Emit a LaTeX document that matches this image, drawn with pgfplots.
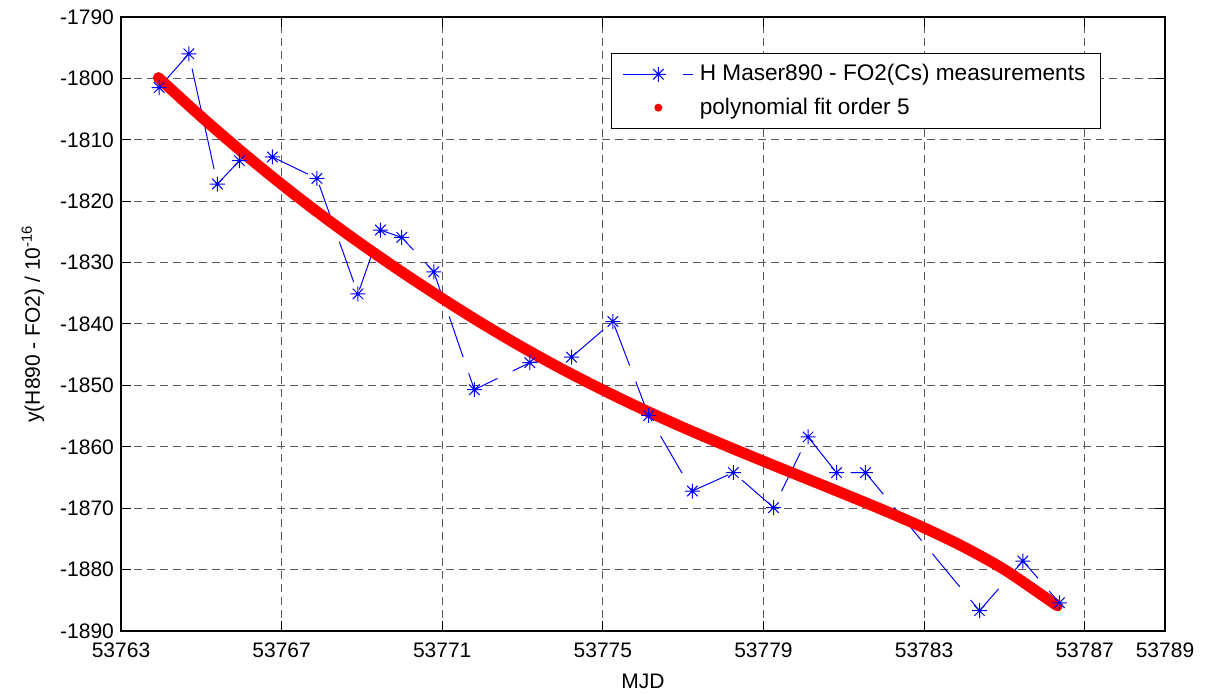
\documentclass[border=0pt]{standalone}
\usepackage{pgfplots}
\pgfplotsset{compat=1.18}
\usepackage{fontspec}
\setmainfont{Liberation Sans}
\pgfdeclareplotmark{mstar}{%
 \pgfpathmoveto{\pgfqpoint{-\pgfplotmarksize}{0pt}}\pgfpathlineto{\pgfqpoint{\pgfplotmarksize}{0pt}}%
 \pgfpathmoveto{\pgfqpoint{0pt}{-\pgfplotmarksize}}\pgfpathlineto{\pgfqpoint{0pt}{\pgfplotmarksize}}%
 \pgfpathmoveto{\pgfqpoint{-0.7\pgfplotmarksize}{-0.7\pgfplotmarksize}}\pgfpathlineto{\pgfqpoint{0.7\pgfplotmarksize}{0.7\pgfplotmarksize}}%
 \pgfpathmoveto{\pgfqpoint{-0.7\pgfplotmarksize}{0.7\pgfplotmarksize}}\pgfpathlineto{\pgfqpoint{0.7\pgfplotmarksize}{-0.7\pgfplotmarksize}}%
 \pgfusepathqstroke}
\pgfplotsset{
  mleg/.style={legend image code/.code={\draw[mark repeat=2,mark phase=2,##1] plot coordinates {(0pt,0pt) (17.5pt,0pt) (35pt,0pt)};}},
  dotleg/.style={legend image code/.code={\path[fill=red, draw=none] (17.5pt,0pt) circle (2pt);}},
}
\pgfplotstableread{
x y
53763.95 -1801.5
53764.69 -1796.0
53765.40 -1817.2
53765.95 -1813.4
53766.77 -1812.8
53767.88 -1816.3
53768.90 -1835.1
53769.46 -1824.7
53769.99 -1825.9
53770.79 -1831.5
53771.80 -1850.7
53773.18 -1846.3
53774.22 -1845.4
53775.25 -1839.6
53776.14 -1854.9
53777.23 -1867.2
53778.25 -1864.2
53779.25 -1869.9
53780.11 -1858.4
53780.82 -1864.2
53781.54 -1864.2
53784.38 -1886.7
53785.46 -1878.6
53786.37 -1885.4
}\meas
\pgfplotstableread{
x y
53763.97 -1800.10
53764.00 -1800.30
53765.00 -1806.25
53766.00 -1811.90
53767.00 -1817.25
53768.00 -1822.30
53769.00 -1827.05
53770.00 -1831.55
53771.00 -1835.85
53772.00 -1839.95
53773.00 -1843.80
53774.00 -1847.40
53775.00 -1850.75
53776.00 -1853.90
53777.00 -1856.85
53778.00 -1859.65
53779.00 -1862.35
53780.00 -1865.00
53781.00 -1867.65
53782.00 -1870.35
53783.00 -1873.20
53784.00 -1876.35
53785.00 -1880.00
53786.00 -1884.45
53786.32 -1885.90
}\fit
\begin{document}
\begin{tikzpicture}[x=1pt,y=1pt]
\useasboundingbox (-60.5pt,-32pt) rectangle (544pt,315.5pt);
\begin{axis}[at={(0,0)}, anchor=south west, scale only axis,
  width=522pt, height=307pt,
  xmin=53763, xmax=53789, ymin=-1890, ymax=-1790,
  scaled x ticks=false, scaled y ticks=false,
  xtick={53763,53767,53771,53775,53779,53783,53787,53789},
  xticklabels={53763,53767,53771,53775,53779,53783,53787,53789},
  ytick={-1890,-1880,-1870,-1860,-1850,-1840,-1830,-1820,-1810,-1800,-1790},
  yticklabels={-1890,-1880,-1870,-1860,-1850,-1840,-1830,-1820,-1810,-1800,-1790},
  tick align=inside, major tick length=5pt,
  tick style={black, line width=0.5pt},
  grid=major,
  major grid style={dash pattern=on 4pt off 2.5pt, color=black!65, line width=0.5pt},
  axis line style={line width=0.6pt},
  ticklabel style={font=\fontsize{10.5}{12}\selectfont},
  xticklabel style={yshift=-2.5pt},
  label style={font=\fontsize{10.5}{12}\selectfont},
  xlabel={MJD},
  ylabel={y(H890 - FO2) / 10\textsuperscript{-16}},
  xlabel style={at={(axis description cs:0.5,0)}, yshift=-25pt, anchor=center},
  ylabel style={at={(axis description cs:-0.0843,0.5)}, anchor=center},
  legend cell align=left,
  legend style={at={(axis description cs:0.9387,0.9414)}, anchor=north east,
    draw=black, line width=0.6pt, font=\fontsize{11.3}{12.5}\selectfont,
    row sep=3pt, inner xsep=5.5pt, inner ysep=3.5pt,
    /tikz/every odd column/.append style={column sep=1pt}},
]
\addplot[color=blue, line width=0.5pt, dash pattern=on 21.5pt off 8.5pt,
  mark=mstar, mark size=3.75pt, mark options={solid, line width=0.5pt}, mleg]
  table[x=x,y=y]{\meas};
\addlegendentry{H Maser890 - FO2(Cs) measurements}
\addplot[color=red, line width=5.5pt, line cap=round, line join=round, smooth, tension=0.5, dotleg]
  table[x=x,y=y]{\fit};
\addlegendentry{polynomial fit order 5}
\end{axis}
\end{tikzpicture}
\end{document}
